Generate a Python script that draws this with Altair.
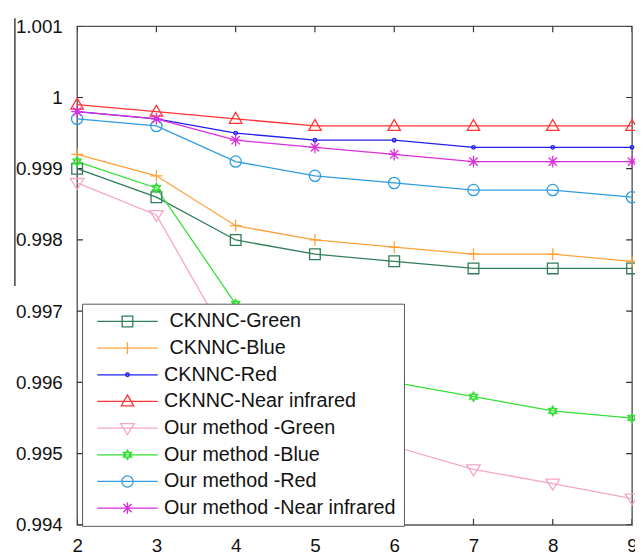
import altair as alt
import pandas as pd

# ---------------- data ----------------
x_vals = [2, 3, 4, 5, 6, 7, 8, 9]
LEAD = "\u200b\u00a0"   # visible leading space of the first two legend labels
series_names = [LEAD + "CKNNC-Green", LEAD + "CKNNC-Blue", "CKNNC-Red", "CKNNC-Near infrared",
                "Our method -Green", "Our method -Blue", "Our method -Red",
                "Our method -Near infrared"]
cknnc_green = [0.9990, 0.9986, 0.9980, 0.9978, 0.9977, 0.9976, 0.9976, 0.9976]
cknnc_blue = [0.9992, 0.9989, 0.9982, 0.9980, 0.9979, 0.9978, 0.9978, 0.9977]
cknnc_red = [0.9998, 0.9997, 0.9995, 0.9994, 0.9994, 0.9993, 0.9993, 0.9993]
cknnc_nir = [0.9999, 0.9998, 0.9997, 0.9996, 0.9996, 0.9996, 0.9996, 0.9996]
our_green = [0.9988, 0.99835, 0.9964, 0.9956, 0.9951, 0.99478, 0.99458, 0.99437]
our_blue = [0.9991, 0.99873, 0.9971, 0.9963, 0.9960, 0.9958, 0.9956, 0.9955]
our_red = [0.9997, 0.9996, 0.9991, 0.9989, 0.9988, 0.9987, 0.9987, 0.9986]
our_nir = [0.9998, 0.9997, 0.9994, 0.9993, 0.9992, 0.9991, 0.9991, 0.9991]
series_values = [cknnc_green, cknnc_blue, cknnc_red, cknnc_nir,
                 our_green, our_blue, our_red, our_nir]

y_ticks = [0.994, 0.995, 0.996, 0.997, 0.998, 0.999, 1.0, 1.001]
colors = ["#2f7d58", "#ffa238", "#1f1fef", "#ff3333",
          "#f5a6c8", "#33e033", "#2d9de2", "#dd2edd"]

# marker shapes (unit square -1..1)
markers = [
    "M-0.9,-0.9L0.9,-0.9L0.9,0.9L-0.9,0.9Z",                       # square
    "M-1,0L1,0M0,-1L0,1",                                          # plus
    "M-0.3,0A0.3,0.3,0,1,1,0.3,0A0.3,0.3,0,1,1,-0.3,0Z",           # dot
    "M0,-1.1L1.05,0.75L-1.05,0.75Z",                               # triangle up
    "M-1.15,-0.75L1.15,-0.75L0,1.1Z",                              # triangle down
    "M0,-0.8L0.69,0.4L-0.69,0.4ZM0,0.8L0.69,-0.4L-0.69,-0.4Z",     # hexagram
    "M-0.95,0A0.95,0.95,0,1,1,0.95,0A0.95,0.95,0,1,1,-0.95,0Z",    # circle
    "M-1,0L1,0M0,-1L0,1M-0.7,-0.7L0.7,0.7M-0.7,0.7L0.7,-0.7",      # asterisk
]
legend_symbols = ["M-5.1,0L5.1,0" + m for m in markers]

rows = []
for name, vals in zip(series_names, series_values):
    for xv, yv in zip(x_vals, vals):
        rows.append({"x": xv, "value": yv, "series": name})
df = pd.DataFrame(rows)

# inward ticks on all four sides of the frame (drawn through the scales, clipped)
x_tick_df = pd.DataFrame({"tx": x_vals * 2,
                          "ty": [y_ticks[0]] * len(x_vals) + [y_ticks[-1]] * len(x_vals)})
y_tick_df = pd.DataFrame({"ty": y_ticks * 2,
                          "tx": [x_vals[0]] * len(y_ticks) + [x_vals[-1]] * len(y_ticks)})

FONT = "Liberation Sans"
TICK = "#333"

color_scale = alt.Scale(domain=series_names, range=colors)
x_scale = alt.Scale(domain=[2, 9], nice=False, zero=False)
y_scale = alt.Scale(domain=[0.994, 1.001], nice=False, zero=False)

legend = alt.Legend(
    title=None, orient="none", legendX=5, legendY=281, direction="vertical",
    fillColor="white", strokeColor="#555", padding=8,
    labelFont=FONT, labelFontSize=20, labelColor="#111", labelLimit=400,
    symbolSize=144, symbolStrokeWidth=1.3, symbolOffset=28, labelOffset=27,
    symbolOpacity=1, symbolFillColor="transparent",
    rowPadding=7,
)

x_axis = alt.Axis(values=x_vals, title=None, domain=False, grid=False, orient="bottom",
                  ticks=False, labelPadding=12, labelFont=FONT, labelFontSize=19,
                  labelColor="#111", labelFlush=False)
y_axis = alt.Axis(values=y_ticks, format=".3~f", title=None, domain=False, grid=False,
                  orient="left", ticks=False, labelPadding=15, labelFont=FONT,
                  labelFontSize=19, labelColor="#111", labelFlush=False)

base = alt.Chart(df)

# invisible first layer: carries the axes and the legend (line + marker symbols)
legend_layer = base.mark_point(filled=False, size=144, strokeWidth=1.3, opacity=0).encode(
    x=alt.X("x:Q", scale=x_scale, axis=x_axis),
    y=alt.Y("value:Q", scale=y_scale, axis=y_axis),
    color=alt.Color("series:N", scale=color_scale, legend=legend),
    shape=alt.Shape("series:N", scale=alt.Scale(domain=series_names, range=legend_symbols),
                    legend=legend),
)

lines = base.mark_line(strokeWidth=1.3).encode(
    x=alt.X("x:Q", scale=x_scale, axis=x_axis),
    y=alt.Y("value:Q", scale=y_scale, axis=y_axis),
    color=alt.Color("series:N", scale=color_scale, legend=None),
)

point_layers = []
for name, path in zip(series_names, markers):
    point_layers.append(
        base.transform_filter(alt.datum.series == name).mark_point(
            filled=False, size=144, strokeWidth=1.3, opacity=1, shape=path).encode(
            x=alt.X("x:Q", scale=x_scale, axis=x_axis),
            y=alt.Y("value:Q", scale=y_scale, axis=y_axis),
            color=alt.Color("series:N", scale=color_scale, legend=None),
        )
    )

x_ticks_layer = alt.Chart(x_tick_df).mark_tick(
    orient="vertical", size=12, thickness=1.2, color=TICK, clip=True, opacity=1).encode(
    x=alt.X("tx:Q", scale=x_scale, axis=x_axis),
    y=alt.Y("ty:Q", scale=y_scale, axis=y_axis),
)
y_ticks_layer = alt.Chart(y_tick_df).mark_tick(
    orient="horizontal", size=12, thickness=1.2, color=TICK, clip=True, opacity=1).encode(
    x=alt.X("tx:Q", scale=x_scale, axis=x_axis),
    y=alt.Y("ty:Q", scale=y_scale, axis=y_axis),
)

edge = alt.Chart(pd.DataFrame({"a": [0]})).mark_rule(
    color="#111", strokeWidth=1.2).encode(
    x=alt.value(-63), y=alt.value(-8), y2=alt.value(263))

chart = alt.layer(legend_layer, x_ticks_layer, y_ticks_layer, lines, *point_layers, edge).properties(
    width=562, height=505,
    autosize=alt.AutoSizeParams(type="none"),
    padding={"left": 70, "top": 15, "right": 3, "bottom": 24},
).configure_view(stroke="#555", strokeWidth=1.4)

chart.save("out.html", embed_options={"renderer": "svg", "actions": False})
